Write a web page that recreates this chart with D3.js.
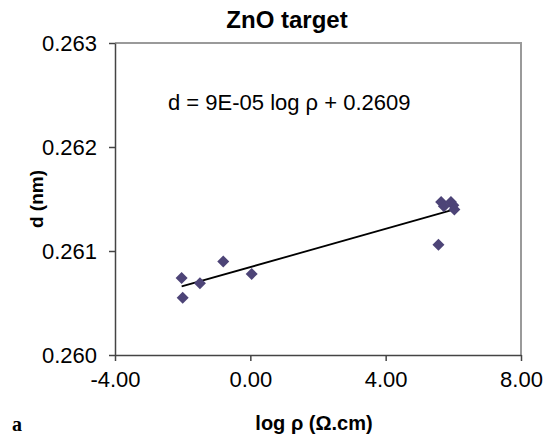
<!DOCTYPE html>
<html>
<head>
<meta charset="utf-8">
<script src="https://cdn.jsdelivr.net/npm/d3@7"></script>
<style>
  body { margin: 0; background: #fff; }
  svg { display: block; font-family: "Liberation Sans", Arial, sans-serif; }
</style>
</head>
<body>
<svg width="547" height="437"></svg>
<script>
// values
var logRho = [-2.03, -2.0, -1.49, -0.80, 0.04, 5.56, 5.64, 5.72, 5.93, 6.0, 6.03];
var dSpacing = [0.26074, 0.26055, 0.26069, 0.26090, 0.26078, 0.26106, 0.26147, 0.26143, 0.26147, 0.26144, 0.26140];
var xTicks = [-4, 0, 4, 8];
var yTicks = [0.260, 0.261, 0.262, 0.263];

var svg = d3.select("svg");
var margin = { top: 43, right: 26, bottom: 82, left: 115 };
var width = +svg.attr("width") - margin.left - margin.right;
var height = +svg.attr("height") - margin.top - margin.bottom;

var x = d3.scaleLinear().domain([-4, 8]).range([0, width]);
var y = d3.scaleLinear().domain([0.260, 0.263]).range([height, 0]);

var g = svg.append("g").attr("transform", "translate(" + margin.left + "," + margin.top + ")");

// top and right border (gray)
g.append("path")
  .attr("d", "M0,0H" + width + "V" + height)
  .attr("fill", "none")
  .attr("stroke", "#9a9a9a")
  .attr("stroke-width", 2);

// axes (plain hyphen for negatives, like the original)
var fmtX = function (d) { return d3.format(".2f")(d).replace("\u2212", "-"); };
var xAxis = g.append("g")
  .attr("transform", "translate(0," + height + ")")
  .call(d3.axisBottom(x).tickValues(xTicks).tickSize(6).tickSizeOuter(0).tickPadding(10).tickFormat(fmtX));
var yAxis = g.append("g")
  .call(d3.axisLeft(y).tickValues(yTicks).tickSize(6).tickSizeOuter(0).tickPadding(12).tickFormat(d3.format(".3f")));

[xAxis, yAxis].forEach(function (a) {
  a.select(".domain").attr("stroke", "#444").attr("stroke-width", 1.5);
  a.selectAll(".tick line").attr("stroke", "#444").attr("stroke-width", 1.5);
  a.selectAll(".tick text")
    .attr("fill", "#000")
    .style("font-family", "Liberation Sans, Arial, sans-serif")
    .style("font-size", "22px");
});

// least squares trend line through the points
var n = logRho.length;
var mx = d3.mean(logRho), my = d3.mean(dSpacing);
var sxy = 0, sxx = 0;
for (var i = 0; i < n; i++) {
  sxy += (logRho[i] - mx) * (dSpacing[i] - my);
  sxx += (logRho[i] - mx) * (logRho[i] - mx);
}
var slope = sxy / sxx;
var intercept = my - slope * mx;
var xExt = d3.extent(logRho);

g.append("line")
  .attr("x1", x(xExt[0]))
  .attr("y1", y(slope * xExt[0] + intercept))
  .attr("x2", x(xExt[1]))
  .attr("y2", y(slope * xExt[1] + intercept))
  .attr("stroke", "#000")
  .attr("stroke-width", 1.8);

// diamonds
var diamond = d3.symbol().type(d3.symbolSquare).size(72);
g.selectAll(".pt")
  .data(logRho)
  .enter()
  .append("path")
  .attr("class", "pt")
  .attr("d", diamond)
  .attr("transform", function (d, i) {
    return "translate(" + x(d) + "," + y(dSpacing[i]) + ") rotate(45)";
  })
  .attr("fill", "#4d4477");

// equation
g.append("text")
  .attr("x", 53)
  .attr("y", 67)
  .style("font-size", "22px")
  .text("d = 9E-05 log \u03c1 + 0.2609");

// title
svg.append("text")
  .attr("x", 287)
  .attr("y", 28)
  .attr("text-anchor", "middle")
  .style("font-size", "24px")
  .style("font-weight", "bold")
  .text("ZnO target");

// axis titles
svg.append("text")
  .attr("x", 314)
  .attr("y", 430)
  .attr("text-anchor", "middle")
  .style("font-size", "20px")
  .style("font-weight", "bold")
  .text("log \u03c1 (\u03a9.cm)");

svg.append("text")
  .attr("transform", "translate(43," + (margin.top + height / 2) + ") rotate(-90)")
  .attr("text-anchor", "middle")
  .style("font-size", "19px")
  .style("font-weight", "bold")
  .text("d (nm)");

// panel letter
svg.append("text")
  .attr("x", 12)
  .attr("y", 431)
  .style("font-family", "Liberation Serif, Times New Roman, serif")
  .style("font-size", "20px")
  .style("font-weight", "bold")
  .text("a");
</script>
</body>
</html>
